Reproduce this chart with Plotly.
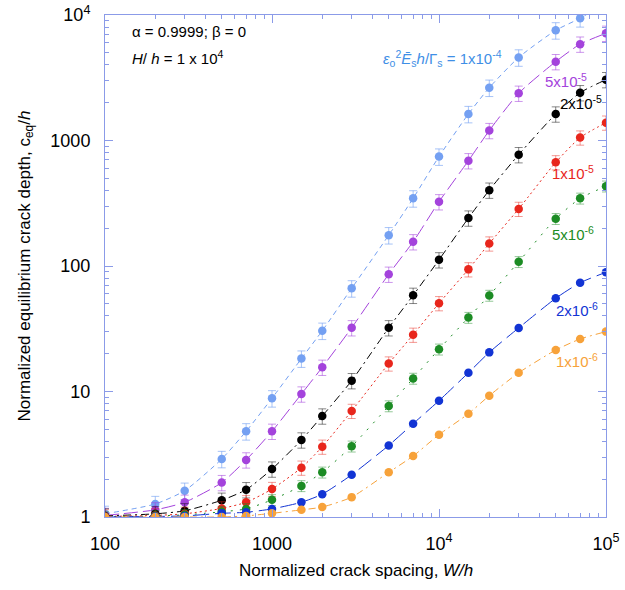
import plotly.graph_objects as go

# normalized crack spacing W/h
spacing = [100, 200, 300, 500, 700, 1000, 1500, 2000, 3000, 5000, 7000,
           10000, 15000, 20000, 30000, 50000, 70000, 100000]

# normalized equilibrium crack depth c_eq/h, one list per loading level
depth_1e4 = [1.06, 1.27, 1.62, 2.90, 4.82, 8.83, 18.3, 30.5, 66.4, 176, 346,
             745, 1626, 2635, 4590, 7550, 9420, 12500]
depth_5e5 = [1.03, 1.14, 1.31, 1.88, 2.85, 4.82, 9.55, 15.6, 32.2, 86, 156,
             325, 690, 1200, 2380, 4250, 5860, 7150]
depth_2e5 = [1.02, 1.06, 1.12, 1.36, 1.65, 2.41, 4.11, 6.38, 12.2, 32.2, 58.4,
             112, 241, 402, 771, 1626, 2404, 3055]
depth_1e5 = [1.01, 1.03, 1.06, 1.17, 1.31, 1.67, 2.47, 3.63, 7.0, 16.7, 28.3,
             50.5, 94, 151, 285, 670, 1055, 1387]
depth_5e6 = [1.0, 1.02, 1.04, 1.10, 1.16, 1.37, 1.77, 2.27, 3.66, 7.66, 12.7,
             21.7, 38.8, 58.2, 108, 238, 346, 432]
depth_2e6 = [1.0, 1.01, 1.02, 1.07, 1.09, 1.16, 1.31, 1.52, 2.17, 3.72, 5.54,
             8.45, 14.1, 20.5, 32.1, 55.3, 73.6, 89.1]
depth_1e6 = [1.0, 1.0, 1.0, 1.0, 1.02, 1.07, 1.14, 1.20, 1.44, 2.27, 3.06,
             4.53, 6.65, 9.26, 14.1, 21.4, 26.2, 30.0]

# scatter of the simulations, in percent
err_pct = [15, 14, 14, 13, 10, 0, 0]

series_labels = ["1x10<sup>-4</sup>", "5x10<sup>-5</sup>", "2x10<sup>-5</sup>",
                 "1x10<sup>-5</sup>", "5x10<sup>-6</sup>", "2x10<sup>-6</sup>",
                 "1x10<sup>-6</sup>"]

x_ticks = [100, 1000, 10000, 100000]
x_ticktext = ["100", "1000", "10<sup>4</sup>", "10<sup>5</sup>"]
y_ticks = [1, 10, 100, 1000, 10000]
y_ticktext = ["1", "10", "100", "1000", "10<sup>4</sup>"]

series = [depth_1e4, depth_5e5, depth_2e5, depth_1e5, depth_5e6, depth_2e6, depth_1e6]
colors = ["#74a0f2", "#a443dc", "#000000", "#e8261c", "#1c8c24", "#1234d4", "#f7a23a"]
bar_colors = ["rgba(116,160,242,0.8)", "rgba(164,67,220,0.7)", "rgba(0,0,0,0.6)",
              "rgba(232,38,28,0.6)", "rgba(28,140,36,0.6)", "#1234d4", "#f7a23a"]
label_colors = ["#3f8fe6", "#a443dc", "#000000", "#e8261c", "#1c8c24", "#1234d4", "#f7a23a"]
dashes = ["5px,4px", "14px,5px", "8px,4px,2px,4px", "2px,3px", "2px,7px",
          "16px,6px", "7px,4px,2px,4px"]

FRAME = "#8b9be8"

fig = go.Figure()

for ys, col, bcol, dash, pct in zip(series, colors, bar_colors, dashes, err_pct):
    fig.add_scatter(
        x=spacing,
        y=ys,
        mode="lines+markers",
        line=dict(color=col, width=1, dash=dash, shape="spline", smoothing=0.6),
        marker=dict(color=col, size=8.5, symbol="circle"),
        error_y=dict(type="percent", value=pct, visible=pct > 0,
                     color=bcol, thickness=0.8, width=4),
        showlegend=False,
    )


def px_x(p):
    return (p - 105) / 501


def px_y(p):
    return (517 - p) / 502


annotations = [
    dict(x=px_x(130), y=px_y(32), text="α = 0.9999; β = 0",
         xanchor="left", font=dict(size=15, color="black")),
    dict(x=px_x(130), y=px_y(57), text="<i>H</i>/ <i>h</i> = 1 x 10<sup>4</sup>",
         xanchor="left", font=dict(size=15, color="black")),
    dict(x=px_x(381), y=px_y(58),
         text="<i>ε</i><sub>o</sub><sup>2</sup><i>Ē</i><sub>s</sub><i>h</i>/Γ<sub>s</sub> = "
              + series_labels[0],
         xanchor="left", font=dict(size=15, color=label_colors[0])),
    dict(x=px_x(356), y=px_y(570), text="Normalized crack spacing, <i>W/h</i>",
         xanchor="center", font=dict(size=17, color="black")),
]

label_pos = [(None, None), (566, 80), (581, 103), (573, 172), (573, 234),
             (577, 310), (577, 360)]
for (lx, ly), txt, col in zip(label_pos[1:], series_labels[1:], label_colors[1:]):
    annotations.append(dict(x=px_x(lx), y=px_y(ly), text=txt, xanchor="center",
                            font=dict(size=15, color=col)))

for a in annotations:
    a.update(xref="paper", yref="paper", showarrow=False, yanchor="middle")

fig.update_layout(
    width=625,
    height=590,
    margin=dict(l=105, r=19, t=15, b=73),
    plot_bgcolor="white",
    paper_bgcolor="white",
    font=dict(family="Liberation Sans, Arial, sans-serif", size=18, color="black"),
    annotations=annotations,
)

fig.update_xaxes(
    type="log",
    range=[2, 5],
    tickvals=x_ticks,
    ticktext=x_ticktext,
    ticks="inside",
    ticklen=8,
    tickcolor=FRAME,
    ticklabelstandoff=10,
    minor=dict(ticks="inside", ticklen=4, tickcolor=FRAME, dtick="D1", showgrid=False),
    showline=True,
    linecolor=FRAME,
    linewidth=1,
    mirror="ticks",
    showgrid=False,
    zeroline=False,
    automargin=False,
)

fig.update_yaxes(
    type="log",
    range=[0, 4],
    tickvals=y_ticks,
    ticktext=y_ticktext,
    ticks="inside",
    ticklen=8,
    tickcolor=FRAME,
    ticklabelstandoff=10,
    minor=dict(ticks="inside", ticklen=4, tickcolor=FRAME, dtick="D1", showgrid=False),
    showline=True,
    linecolor=FRAME,
    linewidth=1,
    mirror="ticks",
    showgrid=False,
    zeroline=False,
    automargin=False,
    title=dict(text="Normalized equilibrium crack depth, c<sub>eq</sub>/<i>h</i>",
               font=dict(size=17)),
)

# drop the default page margin so the figure sits at the window's origin
fig.write_html("out.html", config={"displayModeBar": False},
               post_script="document.body.style.margin='0';")
